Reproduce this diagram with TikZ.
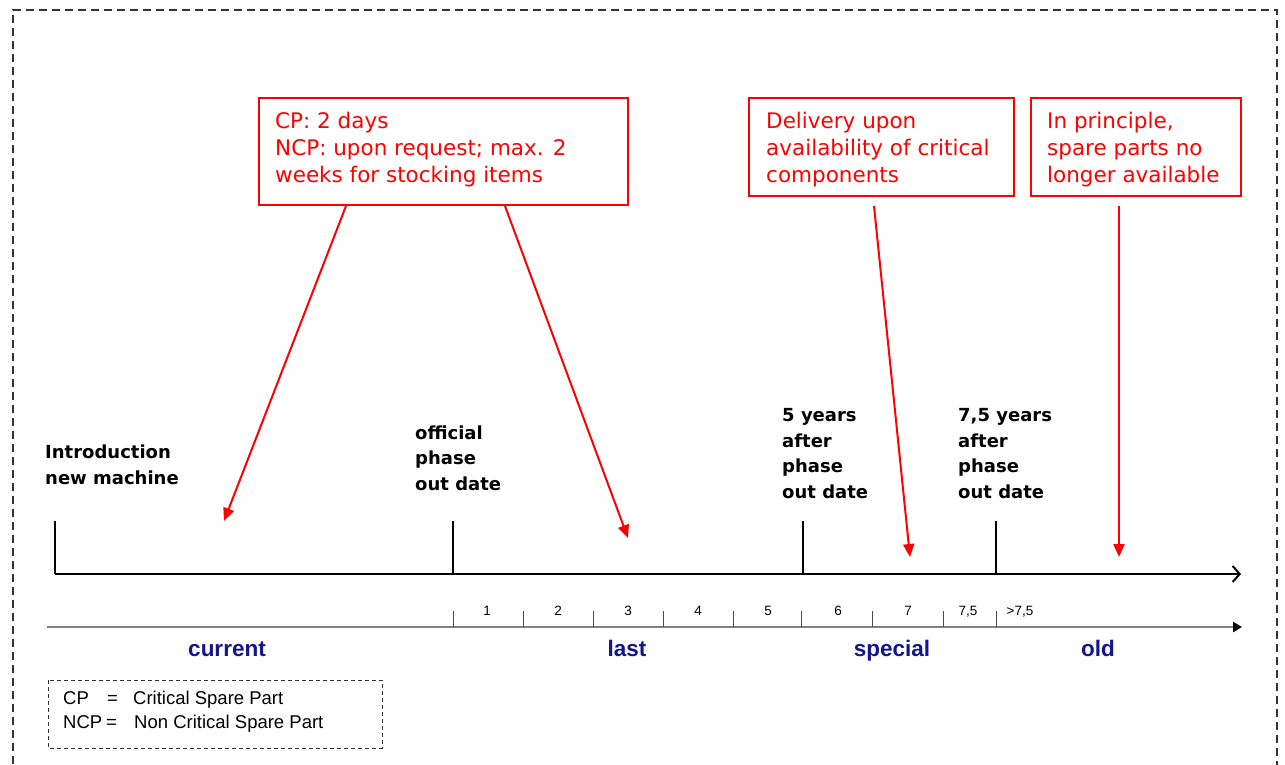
\documentclass[tikz,border=0pt]{standalone}
\usepackage{fontspec}
\setmainfont{Liberation Sans}
\newfontfamily\labfont{DejaVu Sans}
\usetikzlibrary{arrows.meta}
\definecolor{navy}{RGB}{20,20,140}
\definecolor{axisgray}{RGB}{128,128,128}
\begin{document}
\begin{tikzpicture}[x=1pt,y=-1pt,
  redtext/.style={text=red,anchor=base west,align=left,font=\labfont\fontsize{21.5}{27}\selectfont,inner sep=0pt},
  redarrow/.style={draw=red,line width=2pt,-{Triangle[length=13pt,width=11pt]}},
  blabel/.style={anchor=base west,align=left,inner sep=0pt,font=\labfont\bfseries\fontsize{18}{25.5}\selectfont},
  tick/.style={line width=2pt},
  smalltick/.style={line width=1pt,draw=black!70},
  num/.style={font=\fontsize{13.5}{15}\selectfont,inner sep=0pt,anchor=base},
  phase/.style={font=\bfseries\fontsize{22.5}{25}\selectfont,text=navy,inner sep=0pt,anchor=base},
  legtext/.style={anchor=base west,inner sep=0pt,font=\fontsize{18.5}{21}\selectfont},
]
\clip (0,0) rectangle (1285,764);
\fill[white] (0,0) rectangle (1285,764);
% outer dashed border
\draw[line width=1.5pt,dash pattern=on 8pt off 5pt,black!80] (13,790) -- (13,10) -- (1277,10) -- (1277,790);

% red boxes
\draw[red,line width=2pt] (259,98) rectangle (628,205);
\node[redtext] (t1) at (275,182) {CP: 2 days\\NCP: upon request; max. 2\\weeks for stocking items};
\draw[red,line width=2pt] (749,98) rectangle (1014,196);
\node[redtext] (t2) at (766,182) {Delivery upon\\availability of critical\\components};
\draw[red,line width=2pt] (1031,98) rectangle (1241,196);
\node[redtext] (t3) at (1047,182) {In principle,\\spare parts no\\longer available};

\coordinate (b1a) at (346,206);
\coordinate (b1b) at (505,206);
\coordinate (b2a) at (874,206);
\coordinate (b3a) at (1119,206);
\coordinate (e1) at (224,521);
\coordinate (e2) at (628,538);
\coordinate (e3) at (910,557);
\coordinate (e4) at (1119,557);
\draw[redarrow] (b1a) -- (e1);
\draw[redarrow] (b1b) -- (e2);
\draw[redarrow] (b2a) -- (e3);
\draw[redarrow] (b3a) -- (e4);

% main axis
\coordinate (a0) at (55,574);
\coordinate (a1) at (1241,574);
\draw[line width=2pt,-{Straight Barb[length=7pt,width=16pt,line width=2pt]}] (a0) -- (a1);
\foreach \x in {55,453,803,996}{\draw[tick] (\x,521) -- (\x,574);}

% black labels
\node[blabel] (l1) at (45,484) {Introduction\\new machine};
\node[blabel] (l2) at (415,490) {official\\phase\\out date};
\node[blabel] (l3) at (782,498) {5 years\\after\\phase\\out date};
\node[blabel] (l4) at (958,498) {7,5 years\\after\\phase\\out date};

% year axis
\coordinate (y0) at (47,627);
\coordinate (y1) at (1242,627);
\draw[axisgray,line width=2.5pt,-{Triangle[length=9pt,width=10pt,fill=black,color=black]}] (y0) -- (y1);
\foreach \x in {453,523,593,663,733,801,872,943,996}{\draw[smalltick] (\x,611) -- (\x,627);}
\foreach \x/\t in {487/1,558/2,628/3,698/4,768/5,838/6,908/7,968/{7,5},1020/{>7,5}}{\node[num] at (\x,615) {\t};}

% phase labels
\node[phase] (p1) at (227,656) {current};
\node[phase] (p2) at (627,656) {last};
\node[phase] (p3) at (892,656) {special};
\node[phase] (p4) at (1098,656) {old};

% legend
\draw[line width=1pt,dash pattern=on 4pt off 3pt,black!80] (48,680) rectangle (382,748);
\node[legtext] (lg1) at (63,704) {\makebox[44pt][l]{CP}\makebox[26pt][l]{=}Critical Spare Part};
\node[legtext] (lg2) at (63,728) {\makebox[43pt][l]{NCP}\makebox[28pt][l]{=}Non Critical Spare Part};
\end{tikzpicture}
\end{document}
